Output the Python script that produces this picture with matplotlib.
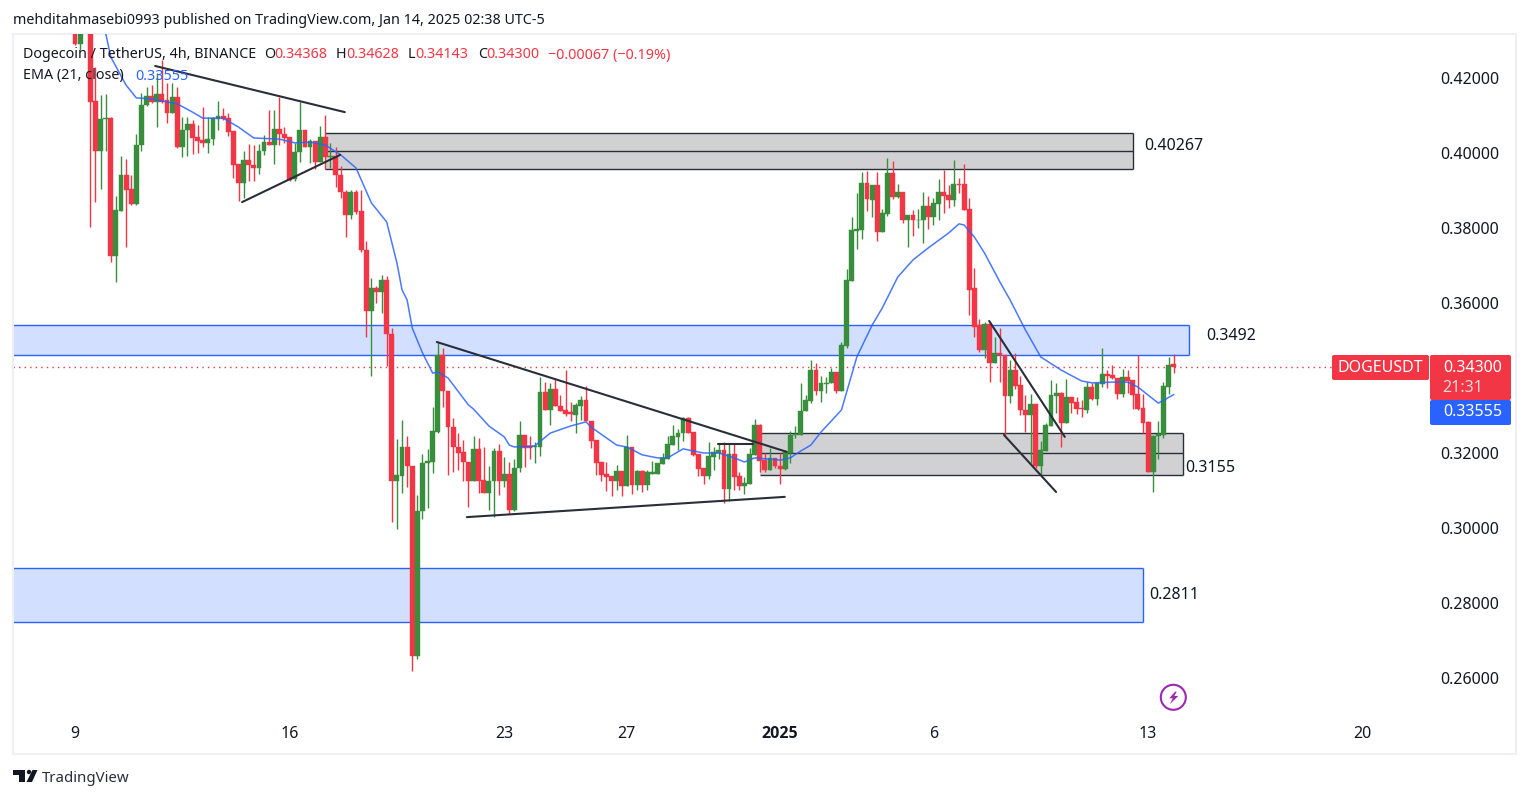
import matplotlib
matplotlib.use('Agg')
import matplotlib.pyplot as plt
import matplotlib.patches as mpatches
import numpy as np

plt.rcParams['font.family'] = ['Noto Sans', 'DejaVu Sans']

opens = [
    .4345,.4291,.4340,.4360,.4139,.4004,.4090,.4093,.3726,.3846,
    .3940,.3904,.3865,.4020,.4127,.4152,.4137,.4157,.4141,.4106,
    .4149,.4017,.4060,.4077,.4043,.4034,.4027,.4036,.4090,.4099,
    .4092,.4059,.3971,.3921,.3981,.3968,.3959,.4004,.4029,.4021,
    .4064,.4051,.4043,.3931,.4002,.4061,.4017,.4032,.3976,.4043,
    .3988,.3992,.3941,.3897,.3835,.3897,.3844,.3741,.3579,.3641,
    .3628,.3661,.3517,.3126,.3139,.3217,.3166,.2659,.3044,.3172,
    .3176,.3257,.3461,.3365,.3269,.3217,.3203,.3176,.3125,.3211,
    .3127,.3094,.3124,.3205,.3124,.3144,.3048,.3159,.3248,.3219,
    .3215,.3217,.3363,.3315,.3371,.3325,.3315,.3308,.3302,.3326,
    .3341,.3285,.3235,.3176,.3143,.3139,.3124,.3152,.3113,.3217,
    .3115,.3152,.3115,.3144,.3144,.3171,.3184,.3221,.3242,.3253,
    .3293,.3256,.3197,.3160,.3139,.3190,.3201,.3207,.3104,.3197,
    .3139,.3113,.3117,.3195,.3275,.3181,.3155,.3186,.3166,.3157,
    .3201,.3249,.3248,.3312,.3339,.3421,.3366,.3385,.3386,.3416,
    .3366,.3486,.3659,.3793,.3795,.3920,.3875,.3915,.3790,.3837,
    .3947,.3883,.3896,.3820,.3835,.3820,.3820,.3859,.3829,.3864,
    .3896,.3888,.3875,.3917,.3917,.3851,.3640,.3540,.3475,.3544,
    .3441,.3466,.3461,.3353,.3421,.3381,.3315,.3300,.3331,.3164,
    .3206,.3273,.3352,.3360,.3281,.3348,.3337,.3320,.3315,.3375,
    .3345,.3383,.3411,.3408,.3399,.3357,.3402,.3395,.3357,.3319,
    .3283,.3150,.3244,.3249,.3377,.34368,
]
highs = [
    .4360,.4350,.4372,.4375,.4230,.4155,.4157,.4095,.3884,.3992,
    .3983,.3940,.4051,.4159,.4177,.4181,.4212,.4248,.4186,.4186,
    .4177,.4097,.4095,.4088,.4075,.4122,.4095,.4095,.4139,.4119,
    .4106,.4059,.3971,.4006,.4024,.4021,.4024,.4048,.4115,.4115,
    .4150,.4068,.4043,.4026,.4137,.4061,.4037,.4032,.4072,.4101,
    .4026,.4017,.3965,.3900,.3900,.3900,.3901,.3766,.3666,.3644,
    .3675,.3672,.3532,.3237,.3288,.3246,.3166,.3088,.3197,.3211,
    .3322,.3497,.3479,.3365,.3292,.3254,.3235,.3176,.3246,.3241,
    .3215,.3164,.3212,.3224,.3188,.3176,.3183,.3285,.3248,.3244,
    .3230,.3402,.3388,.3386,.3397,.3355,.3421,.3337,.3332,.3352,
    .3379,.3285,.3235,.3176,.3176,.3139,.3168,.3152,.3248,.3217,
    .3155,.3155,.3155,.3179,.3174,.3201,.3246,.3275,.3263,.3295,
    .3295,.3256,.3197,.3160,.3228,.3217,.3226,.3230,.3224,.3224,
    .3150,.3135,.3212,.3290,.3277,.3199,.3214,.3186,.3199,.3208,
    .3259,.3272,.3386,.3355,.3448,.3439,.3404,.3402,.3426,.3416,
    .3497,.3691,.3828,.3893,.3949,.3952,.3915,.3949,.3850,.3987,
    .3979,.3916,.3896,.3835,.3848,.3851,.3896,.3885,.3879,.3930,
    .3955,.3915,.3981,.3934,.3971,.3879,.3692,.3557,.3548,.3550,
    .3510,.3532,.3461,.3448,.3466,.3405,.3355,.3356,.3331,.3233,
    .3279,.3395,.3386,.3362,.3397,.3348,.3350,.3341,.3390,.3386,
    .3386,.3479,.3420,.3435,.3399,.3424,.3420,.3395,.3461,.3357,
    .3286,.3248,.3286,.3388,.3455,.34628,
]
lows = [
    .4288,.4275,.4333,.3802,.3868,.3904,.4004,.3710,.3655,.3846,
    .3750,.3861,.3861,.4004,.4126,.4132,.4070,.4134,.4079,.4106,
    .4012,.3990,.3992,.3997,.4001,.4015,.4001,.4021,.4061,.4088,
    .4044,.3934,.3873,.3879,.3924,.3924,.3944,.3995,.4021,.3971,
    .4021,.4026,.3924,.3924,.3977,.4015,.3974,.3957,.3976,.3956,
    .3959,.3910,.3879,.3777,.3823,.3836,.3737,.3510,.3404,.3599,
    .3574,.3432,.3017,.2998,.3094,.3110,.2619,.2650,.3025,.3052,
    .3147,.3253,.3322,.3140,.3150,.3155,.3126,.3055,.3125,.3092,
    .3094,.3048,.3028,.3088,.3110,.3036,.3046,.3150,.3162,.3183,
    .3174,.3193,.3315,.3275,.3324,.3313,.3299,.3286,.3254,.3288,
    .3284,.3212,.3140,.3124,.3099,.3084,.3100,.3086,.3113,.3091,
    .3100,.3097,.3100,.3144,.3144,.3171,.3184,.3221,.3208,.3233,
    .3252,.3193,.3139,.3117,.3131,.3155,.3183,.3066,.3073,.3101,
    .3101,.3091,.3117,.3195,.3150,.3150,.3155,.3159,.3117,.3155,
    .3172,.3241,.3248,.3312,.3334,.3355,.3337,.3359,.3386,.3359,
    .3366,.3479,.3659,.3744,.3771,.3844,.3830,.3764,.3790,.3833,
    .3877,.3881,.3812,.3750,.3779,.3799,.3761,.3798,.3808,.3820,
    .3841,.3852,.3859,.3892,.3848,.3568,.3508,.3470,.3452,.3390,
    .3441,.3390,.3245,.3332,.3371,.3301,.3257,.3172,.3161,.3141,
    .3206,.3272,.3306,.3217,.3279,.3306,.3304,.3295,.3306,.3341,
    .3328,.3375,.3372,.3397,.3344,.3350,.3359,.3316,.3315,.3254,
    .3148,.3097,.3184,.3239,.3356,.34143,
]
closes = [
    .4291,.4340,.4360,.4137,.4004,.4091,.4093,.3726,.3848,.3940,
    .3901,.3865,.4021,.4128,.4152,.4137,.4157,.4137,.4106,.4149,
    .4017,.4061,.4077,.4041,.4032,.4027,.4037,.4092,.4099,.4090,
    .4057,.3969,.3921,.3981,.3968,.3959,.4006,.4028,.4021,.4064,
    .4051,.4040,.3928,.4003,.4061,.4017,.4032,.3976,.4043,.3988,
    .3992,.3940,.3895,.3835,.3897,.3842,.3740,.3579,.3641,.3628,
    .3661,.3517,.3126,.3141,.3217,.3166,.2659,.3045,.3172,.3178,
    .3259,.3461,.3364,.3268,.3217,.3201,.3176,.3125,.3211,.3125,
    .3094,.3125,.3205,.3124,.3144,.3048,.3160,.3248,.3214,.3214,
    .3219,.3363,.3315,.3371,.3324,.3313,.3305,.3304,.3328,.3341,
    .3284,.3233,.3174,.3141,.3137,.3124,.3152,.3113,.3217,.3115,
    .3152,.3115,.3148,.3148,.3174,.3186,.3223,.3244,.3253,.3293,
    .3252,.3195,.3157,.3139,.3192,.3202,.3207,.3104,.3197,.3137,
    .3113,.3120,.3197,.3275,.3179,.3155,.3186,.3164,.3157,.3203,
    .3248,.3251,.3312,.3341,.3421,.3366,.3386,.3387,.3416,.3366,
    .3488,.3661,.3795,.3797,.3920,.3877,.3915,.3790,.3839,.3947,
    .3883,.3896,.3820,.3835,.3820,.3821,.3859,.3829,.3867,.3896,
    .3885,.3875,.3917,.3915,.3848,.3635,.3537,.3475,.3544,.3441,
    .3466,.3461,.3353,.3421,.3379,.3315,.3300,.3331,.3164,.3208,
    .3275,.3355,.3360,.3281,.3348,.3334,.3318,.3316,.3375,.3345,
    .3386,.3411,.3405,.3399,.3357,.3402,.3393,.3355,.3317,.3281,
    .3150,.3245,.3251,.3379,.3435,.34300,
]

# EMA at a bar index
ema_bars = [6,7,10,12,15,20,23,25,29,32,35,40,43,46,49,52,55,58,61,63,64,65,66,68,70,71,73,77,78,81,
            84,85,86,90,93,97,100,101,106,108,111,114,116,119,123,126,129,131,133,138,140,142,144,146,
            148,150,153,156,158,161,164,167,171,173,174,176,178,181,183,186,189,193,197,199,203,206,
            208,212,215]
ema_vals = [.4320,.4256,.4181,.4147,.4144,.4131,.4109,.4093,.4093,.4069,.4040,.4037,.4027,.4029,.4021,
            .3995,.3960,.3867,.3816,.3707,.3635,.3608,.3533,.3467,.3413,.3416,.3400,.3328,.3317,.3272,
            .3243,.3221,.3216,.3219,.3253,.3272,.3283,.3269,.3221,.3216,.3195,.3187,.3187,.3211,.3200,
            .3200,.3187,.3176,.3187,.3181,.3187,.3205,.3221,.3256,.3285,.3315,.3456,.3541,.3587,.3669,
            .3715,.3747,.3787,.3811,.3808,.3776,.3733,.3656,.3608,.3528,.3456,.3421,.3392,.3387,.3389,
            .3389,.3376,.3333,.33555]

xtick_bars = [0, 42, 84, 108, 138, 168, 210, 252]
xtick_labels = ['9', '16', '23', '27', '2025', '6', '13', '20']
ytick_vals = [0.26, 0.28, 0.30, 0.32, 0.36, 0.38, 0.40, 0.42]

# zones: bar start, bar end, price low, price mid, price high
grey_top = (48.9, 207.0, .3957, .4005, .4053)
grey_low = (134.0, 216.8, .3141, .3199, .3254)
blue_top = (-12.2, 218.0, .3461, .3541)
blue_low = (-12.2, 209.0, .2749, .2893)

# hand-drawn trendlines: (bar, price) pairs
trend_lines = [
    ((15.7, .4232), (52.8, .4109)),
    ((32.7, .3869), (51.9, .3995)),
    ((70.8, .3496), (139.3, .3203)),
    ((76.7, .3029), (138.9, .3083)),
    ((125.8, .3224), (132.7, .3224)),
    ((178.9, .3552), (193.7, .3243)),
    ((181.8, .3248), (192.0, .3096)),
]
zone_labels = [('0.40267', 209.3, .4019), ('0.3492', 221.3, .3512),
               ('0.3155', 217.2, .3160), ('0.2811', 210.3, .2821)]

RED = '#f23645'
GREEN = '#388e3c'
BLUE = '#2962ff'
INK = '#131722'
LINE = '#2a2e39'
GREY_FILL = '#d1d1d4'
BLUE_FILL = '#d2dfff'

W, H = 1529, 798
fig = plt.figure(figsize=(W / 100, H / 100), dpi=100, facecolor='white')
ax = fig.add_axes([13 / W, 1 - 754 / H, (1516 - 13) / W, (754 - 34) / H])
ax.set_xlim(-12.13, 282.0)
ax.set_ylim(0.23973, 0.43173)

# zones first so the candles sit on top
for x0, x1, lo, mid, hi in [grey_top, grey_low]:
    ax.add_patch(mpatches.Rectangle((x0, lo), x1 - x0, hi - lo, facecolor=GREY_FILL, edgecolor='none', zorder=1))
    ax.hlines([lo, mid, hi], x0, x1, color=LINE, lw=1, zorder=1.5)
    ax.vlines(x1, lo, hi, color=LINE, lw=1, zorder=1.5)
for x0, x1, lo, hi in [blue_top, blue_low]:
    ax.add_patch(mpatches.Rectangle((x0, lo), x1 - x0, hi - lo, facecolor=BLUE_FILL, edgecolor='none', zorder=1))
    ax.hlines([lo, hi], x0, x1, color=BLUE, lw=1, zorder=1.5)
    ax.vlines(x1, lo, hi, color=BLUE, lw=1, zorder=1.5)

ax.axhline(closes[-1], xmax=(1332 - 13) / (1516 - 13), color=RED, lw=1, ls=(0, (1, 3)), zorder=1.6)

x = np.arange(len(opens))
o, h, l, c = map(np.array, (opens, highs, lows, closes))
cols = [GREEN if cc >= oo else RED for oo, cc in zip(o, c)]
ax.vlines(x, l, h, colors=cols, lw=1.0, zorder=2)
ax.bar(x, np.abs(c - o), bottom=np.minimum(o, c), width=0.95, color=cols, edgecolor=cols, linewidth=0.3, zorder=3)

ax.plot(ema_bars, ema_vals, color=BLUE, lw=1.1, alpha=0.85, zorder=4)

for p0, p1 in trend_lines:
    ax.plot([p0[0], p1[0]], [p0[1], p1[1]], color=LINE, lw=1.5, zorder=5, solid_capstyle='round')

for txt, bx, py in zone_labels:
    ax.text(bx, py, txt, fontsize=11.5, color=INK, va='center', ha='left', zorder=6)

ax.yaxis.tick_right()
ax.set_yticks(ytick_vals)
ax.set_yticklabels([f'{v:.5f}' for v in ytick_vals])
ax.tick_params(axis='y', length=0, pad=-54.5, labelsize=11.5, labelcolor=INK)
ax.set_xticks(xtick_bars)
ax.set_xticklabels(xtick_labels)
ax.tick_params(axis='x', length=0, pad=-20, labelsize=11.5, labelcolor=INK)
year_label = ax.get_xticklabels()[4]
year_label.set_family('Open Sans')
year_label.set_fontweight('bold')
for s in ax.spines.values():
    s.set_color('#eef0f5')
    s.set_linewidth(1.5)

# overlay in picture pixels for the header, tags and logo
ov = fig.add_axes([0, 0, 1, 1], facecolor='none')
ov.set_xlim(0, W)
ov.set_ylim(H, 0)
ov.axis('off')
ov.set_zorder(10)

ov.text(13, 20.5, 'mehditahmasebi0993 published on TradingView.com, Jan 14, 2025 02:38 UTC-5',
        fontsize=10.3, color=INK, va='center')
ov.text(23, 55, 'Dogecoin / TetherUS, 4h, BINANCE', fontsize=10.3, color=INK, va='center')
for lab, lx, val, vx in [('O', 264, '0.34368', 274), ('H', 336, '0.34628', 346),
                         ('L', 408, '0.34143', 415), ('C', 478, '0.34300', 486)]:
    ov.text(lx, 55, lab, fontsize=10.3, color=INK, va='center')
    ov.text(vx, 55, val, fontsize=10.3, color=RED, va='center')
ov.text(548, 55, '\u22120.00067 (\u22120.19%)', fontsize=10.3, color=RED, va='center')
ov.text(23, 76, 'EMA (21, close)', fontsize=10.3, color=INK, va='center')
ov.text(135, 76, '0.33555', fontsize=10.3, color=BLUE, va='center')


def tag(x0, y0, x1, y1, col):
    ov.add_patch(mpatches.FancyBboxPatch((x0 + 2, y0 + 2), x1 - x0 - 4, y1 - y0 - 4,
                                         boxstyle='round,pad=2', facecolor=col, edgecolor='none'))


tag(1332, 355, 1429, 380, RED)
tag(1430, 355, 1511, 400, RED)
tag(1430, 400, 1511, 425, BLUE)
ov.text(1380.5, 367.5, 'DOGEUSDT', fontsize=11.5, color='white', va='center', ha='center', fontweight='medium')
ov.text(1473, 367.5, '0.34300', fontsize=11.5, color='white', va='center', ha='center', fontweight='medium')
ov.text(1463, 388, '21:31', fontsize=11.5, color='#fcd5d9', va='center', ha='center')
ov.text(1473, 412.5, '0.33555', fontsize=11.5, color='white', va='center', ha='center', fontweight='medium')

# lightning mark
ov.add_patch(mpatches.Circle((1173.3, 697.3), 12.5, facecolor='none', edgecolor='#9c27b0', lw=1.5))
ov.add_patch(mpatches.Polygon([(1175, 691.7), (1169.3, 698.3), (1172.7, 698.3), (1170, 704),
                               (1178.3, 696), (1174.3, 696), (1176.7, 691.7)], facecolor='#9c27b0', edgecolor='none'))

# TradingView logo
ov.add_patch(mpatches.Polygon([(13.3, 770), (25, 770), (25, 782), (18.5, 782), (18.5, 774.5), (13.3, 774.5)],
                              facecolor=INK, edgecolor='none'))
ov.add_patch(mpatches.Circle((29, 772), 2.2, facecolor=INK, edgecolor='none'))
ov.add_patch(mpatches.Polygon([(32.5, 770), (37.5, 770), (32, 782), (26.5, 782)], facecolor=INK, edgecolor='none'))
ov.text(42, 778, 'TradingView', fontsize=10.8, color='#2a2e39', va='center')

fig.savefig('out.png', dpi=100)
